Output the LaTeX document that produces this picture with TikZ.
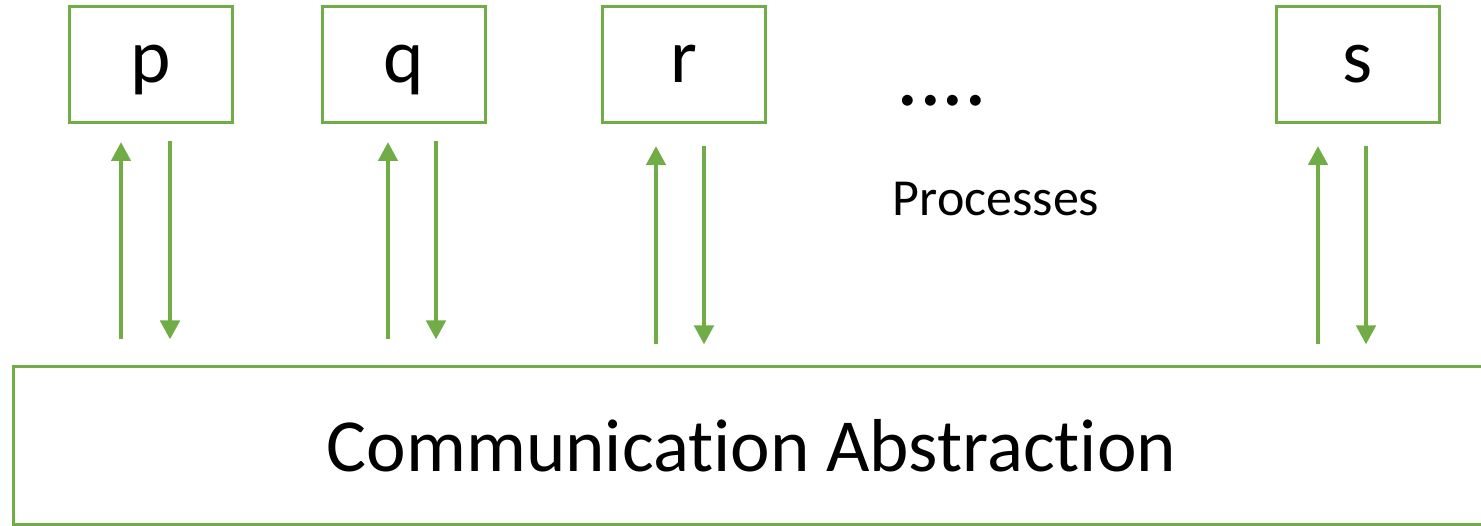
\documentclass[tikz,border=0pt]{standalone}
\usepackage{fontspec}
\setmainfont{Carlito}[Ligatures=NoCommon]
\usetikzlibrary{arrows.meta}
\definecolor{accgreen}{HTML}{70AD47}
\tikzset{
  procbox/.style={draw=accgreen, line width=3pt, inner sep=0pt,
    minimum width=163pt, minimum height=116pt,
    text height=38pt, text depth=2pt,
    font=\fontsize{77}{77}\selectfont},
  layerbox/.style={draw=accgreen, line width=3pt, inner sep=0pt,
    minimum width=1477pt, minimum height=157pt,
    font=\fontsize{75}{75}\selectfont},
  flow/.style={draw=accgreen, line width=4.5pt,
    -{Triangle[length=19pt,width=19pt]}},
}
\begin{document}
\begin{tikzpicture}[x=1pt,y=-1pt]
\useasboundingbox (0,0) rectangle (1481,526);
% process boxes
\node[procbox] (p) at (150.5,64.5) {p};
\node[procbox] (q) at (403.5,64.5) {q};
\node[procbox] (r) at (683.5,64.5) {r};
\node[procbox] (s) at (1357.5,64.5) {s};
\node[anchor=base, font=\fontsize{90}{90}\selectfont] (dots) at (942,106) {....};
\node[font=\fontsize{52}{52}\selectfont] (procs) at (996,199) {Processes};
% communication layer (its right edge runs past the page)
\node[layerbox] (ca) at (751.5,445.5) {Communication Abstraction};
% columns of the arrows
\coordinate (pu) at (121,0);
\coordinate (pd) at (170,0);
\coordinate (qu) at (388,0);
\coordinate (qd) at (436,0);
\coordinate (ru) at (656,0);
\coordinate (rd) at (704,0);
\coordinate (su) at (1318,0);
\coordinate (sd) at (1366,0);
% arrows between processes and the layer
\draw[flow, shorten <=26pt, shorten >=18pt] (pu |- ca.north) -- (pu |- p.south);
\draw[flow, shorten <=17pt, shorten >=26pt] (pd |- p.south) -- (pd |- ca.north);
\draw[flow, shorten <=26pt, shorten >=18pt] (qu |- ca.north) -- (qu |- q.south);
\draw[flow, shorten <=17pt, shorten >=26pt] (qd |- q.south) -- (qd |- ca.north);
\draw[flow, shorten <=21pt, shorten >=22pt] (ru |- ca.north) -- (ru |- r.south);
\draw[flow, shorten <=22pt, shorten >=21pt] (rd |- r.south) -- (rd |- ca.north);
\draw[flow, shorten <=21pt, shorten >=22pt] (su |- ca.north) -- (su |- s.south);
\draw[flow, shorten <=22pt, shorten >=21pt] (sd |- s.south) -- (sd |- ca.north);
\end{tikzpicture}
\end{document}
